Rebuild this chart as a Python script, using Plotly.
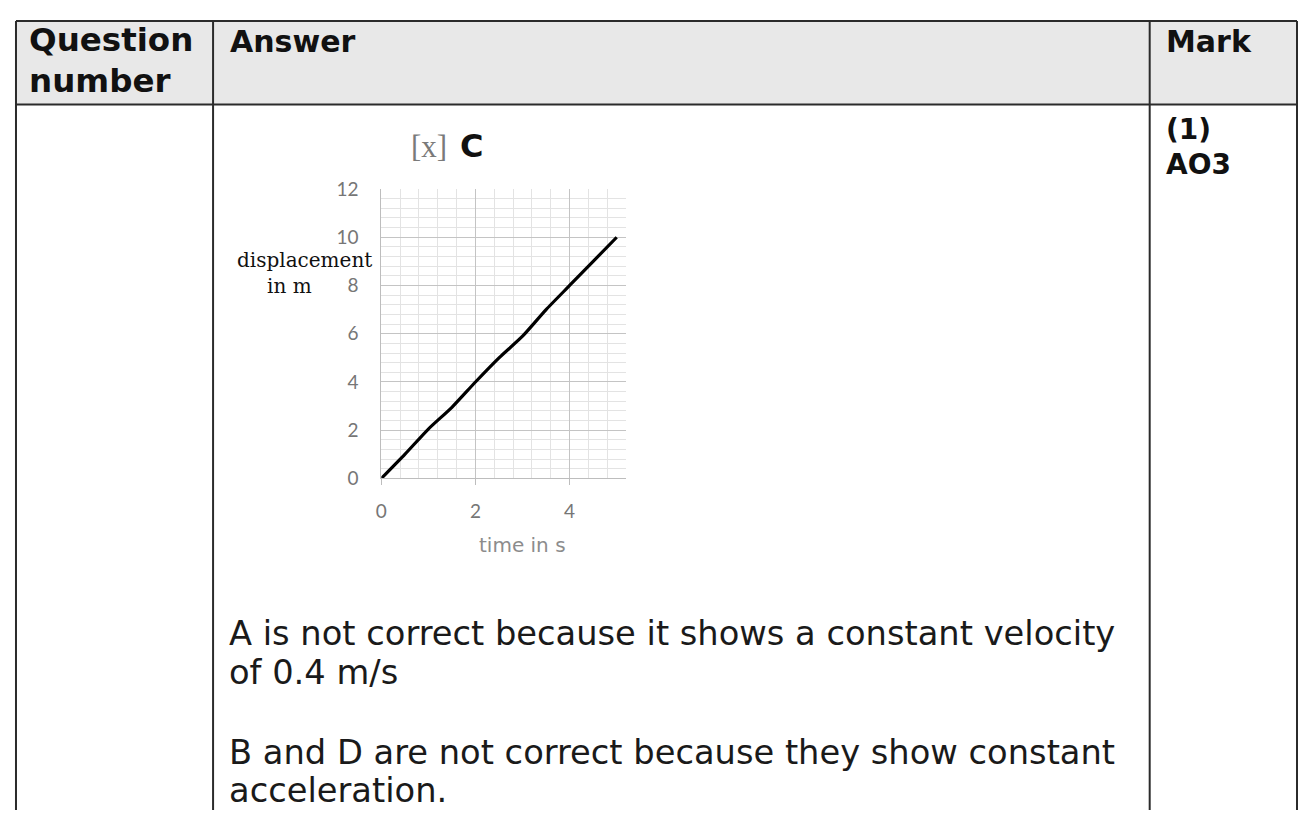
import plotly.graph_objects as go

# the page adds an 8px body margin, so the figure is made smaller by that
PAGE_W, PAGE_H = 1306, 818
OFF = 8
W, H = PAGE_W - 2 * OFF, PAGE_H - 2 * OFF

# displacement-time line
time_s = [0, 0.5, 1, 1.5, 2, 2.5, 3, 3.5, 4, 4.5, 5]
displacement_m = [0, 1.0, 2.05, 2.95, 4.0, 5.0, 5.9, 7.0, 8.0, 9.0, 10.0]

# table text
header_cells = ["Question<br>number", "Answer", "Mark"]
mark_lines = ["(1)", "AO3"]
answer_lines = [
    "A is not correct because it shows a constant velocity",
    "of 0.4 m/s",
    "B and D are not correct because they show constant",
    "acceleration.",
]


def fx(x):
    # page pixel -> paper fraction
    return (x - OFF) / W


def fy(y):
    return 1 - (y - OFF) / H


fig = go.Figure()

fig.add_trace(go.Scatter(
    x=time_s, y=displacement_m, mode="lines",
    line=dict(color="black", width=3.2, shape="spline", smoothing=0.6),
    showlegend=False, hoverinfo="skip",
))

border = "#2b2b2b"
shapes = []
# header shading
shapes.append(dict(type="rect", xref="paper", yref="paper",
                   x0=fx(10), x1=fx(1297), y0=fy(95), y1=fy(9),
                   fillcolor="#e8e8e8", line=dict(width=0), layer="below"))
# horizontal rules
for yy in [9, 95]:
    shapes.append(dict(type="line", xref="paper", yref="paper",
                       x0=fx(10), x1=fx(1297), y0=fy(yy), y1=fy(yy),
                       line=dict(color=border, width=2)))
# vertical rules
for xx in [10, 208, 1149, 1297]:
    shapes.append(dict(type="line", xref="paper", yref="paper",
                       x0=fx(xx), x1=fx(xx), y0=fy(9), y1=fy(830),
                       line=dict(color=border, width=2)))

ann = []
qfont = dict(family="DejaVu Sans", size=32.5, color="#111111")
hfont = dict(family="DejaVu Sans", size=30, color="#111111")
qlines = header_cells[0].split("<br>")
ann.append(dict(x=fx(21), y=fy(29), text="<b>%s</b>" % qlines[0], font=qfont))
ann.append(dict(x=fx(21), y=fy(71), text="<b>%s</b>" % qlines[1], font=qfont))
ann.append(dict(x=fx(223), y=fy(30), text="<b>%s</b>" % header_cells[1], font=hfont))
ann.append(dict(x=fx(1163), y=fy(30), text="<b>%s</b>" % header_cells[2], font=hfont))

mfont = dict(family="DejaVu Sans", size=28, color="#111111")
for txt, yy in zip(mark_lines, [121, 157]):
    ann.append(dict(x=fx(1163), y=fy(yy), text="<b>%s</b>" % txt, font=mfont))

bfont = dict(family="DejaVu Sans", size=33.7, color="#1a1a1a")
for txt, yy in zip(answer_lines, [640, 680, 762, 801]):
    ann.append(dict(x=fx(222), y=fy(yy), text=txt, font=bfont))

for a in ann:
    a.update(xref="paper", yref="paper", xanchor="left", yanchor="middle",
             showarrow=False)

# graph title "[x] C"
fig.add_annotation(x=fx(445), y=fy(138), xref="paper", yref="paper",
                   text="[x]", showarrow=False, xanchor="right", yanchor="middle",
                   font=dict(family="Liberation Serif", size=31, color="#7a7a7a"))
fig.add_annotation(x=fx(454), y=fy(138), xref="paper", yref="paper",
                   text="<b>C</b>", showarrow=False, xanchor="left", yanchor="middle",
                   font=dict(family="DejaVu Sans", size=32, color="#111111"))
# axis titles
fig.add_annotation(x=fx(300), y=fy(255), xref="paper", yref="paper",
                   text="displacement", showarrow=False, xanchor="center", yanchor="middle",
                   font=dict(family="DejaVu Serif", size=20, color="#111111"))
fig.add_annotation(x=fx(285), y=fy(282), xref="paper", yref="paper",
                   text="in m", showarrow=False, xanchor="center", yanchor="middle",
                   font=dict(family="DejaVu Serif", size=20, color="#111111"))
fig.add_annotation(x=fx(519), y=fy(549), xref="paper", yref="paper",
                   text="time in s", showarrow=False, xanchor="center", yanchor="middle",
                   font=dict(family="DejaVu Sans", size=20, color="#8c8c8c"))

tickfont = dict(family="Lato", size=19, color="#767676")
fig.update_layout(
    width=W, height=H,
    margin=dict(l=0, r=0, t=0, b=0),
    paper_bgcolor="white", plot_bgcolor="white",
    shapes=shapes, annotations=list(fig.layout.annotations) + ann,
    xaxis=dict(domain=[fx(377), fx(623)], range=[0, 5.2],
               tick0=0, dtick=2, showgrid=True, gridcolor="#c4c4c4", gridwidth=1,
               minor=dict(tick0=0, dtick=0.4, showgrid=True, gridcolor="#e3e3e3"),
               showline=True, linecolor="#bdbdbd", zeroline=False,
               ticks="outside", ticklen=6, tickcolor="#bdbdbd",
               tickfont=tickfont, ticklabelstandoff=10, fixedrange=True),
    yaxis=dict(domain=[fy(480), fy(182)], range=[0, 12],
               tick0=0, dtick=2, showgrid=True, gridcolor="#c4c4c4", gridwidth=1,
               minor=dict(tick0=0, dtick=0.4, showgrid=True, gridcolor="#e3e3e3"),
               showline=True, linecolor="#bdbdbd", zeroline=False,
               ticks="", tickfont=tickfont, ticklabelstandoff=18, fixedrange=True),
)

fig.write_html("out.html")
